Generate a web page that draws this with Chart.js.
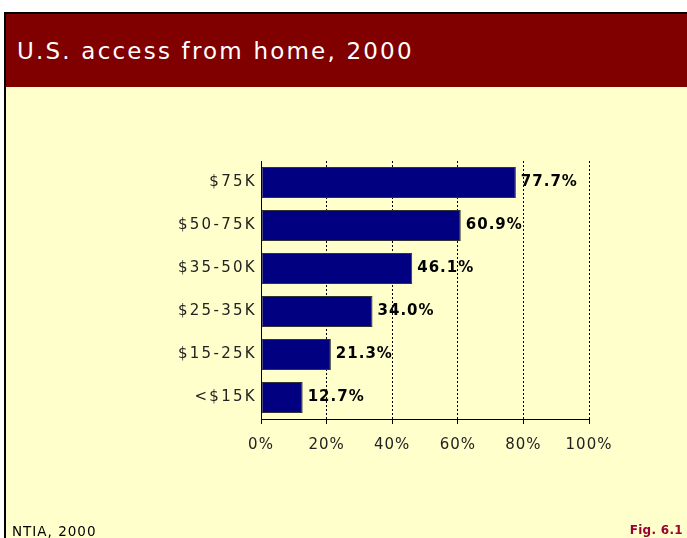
<!DOCTYPE html>
<html>
<head>
<meta charset="utf-8">
<script src="https://cdn.jsdelivr.net/npm/chart.js@4/dist/chart.umd.min.js"></script>
<style>
  html, body { margin: 0; padding: 0; background: #fff; }
  #page { position: relative; width: 687px; height: 538px; overflow: hidden; }
  #frame { position: absolute; left: 4px; top: 12px; width: 700px; height: 540px;
           border-left: 2px solid #000; border-top: 2px solid #000; background: #ffffcc; }
  #header { position: absolute; left: 6px; top: 14px; width: 690px; height: 73px; background: #800000; }
  #title { position: absolute; left: 17px; top: 38px; color: #fff; font: 23px "DejaVu Sans", sans-serif;
           letter-spacing: 2.2px; white-space: nowrap; }
  #source { position: absolute; left: 12px; top: 523px; font: 13.5px "DejaVu Sans", sans-serif;
            letter-spacing: 1px; color: #000; }
  #fig { position: absolute; right: 4px; top: 523px; font: bold 12px "DejaVu Sans", sans-serif;
         letter-spacing: 0.3px; color: #990033; }
  #chart { position: absolute; left: 0; top: 0; }
</style>
</head>
<body>
<div id="page">
  <div id="frame"></div>
  <div id="header"></div>
  <div id="title">U.S. access from home, 2000</div>
  <canvas id="chart" width="687" height="538"></canvas>
  <div id="source">NTIA, 2000</div>
  <div id="fig">Fig. 6.1</div>
</div>
<script>
const incomeGroups = ['$75K', '$50-75K', '$35-50K', '$25-35K', '$15-25K', '<$15K'];
const accessShare = [77.7, 60.9, 46.1, 34.0, 21.3, 12.7];
const axisTicks = [0, 20, 40, 60, 80, 100];

// value labels next to each bar; the category ticks (z: 1) draw afterwards with wider spacing
const barLabels = {
    id: 'barLabels',
    beforeDraw(chart) {
        chart.ctx.letterSpacing = '1px';
    },
    afterDatasetsDraw(chart) {
        const ctx = chart.ctx;
        const meta = chart.getDatasetMeta(0);
        ctx.save();
        ctx.letterSpacing = '1px';
        ctx.font = 'bold 15px "DejaVu Sans", sans-serif';
        ctx.fillStyle = '#000';
        ctx.textAlign = 'left';
        ctx.textBaseline = 'middle';
        meta.data.forEach((bar, i) => {
            ctx.fillText(accessShare[i].toFixed(1) + '%', bar.x + 5, bar.y);
        });
        ctx.restore();
        ctx.letterSpacing = '2.3px';
    },
    afterDraw(chart) {
        chart.ctx.letterSpacing = '0px';
    }
};

new Chart(document.getElementById('chart'), {
    type: 'bar',
    data: {
        labels: incomeGroups,
        datasets: [{
            data: accessShare,
            backgroundColor: '#000080',
            borderColor: '#333333',
            borderWidth: 1,
            borderSkipped: false,
            categoryPercentage: 1,
            barPercentage: 0.72
        }]
    },
    options: {
        indexAxis: 'y',
        responsive: false,
        animation: false,
        events: [],
        layout: { padding: { left: 0, right: 98, top: 161, bottom: 79 } },
        plugins: { legend: { display: false }, tooltip: { enabled: false } },
        scales: {
            x: {
                min: 0,
                max: 100,
                afterBuildTicks(scale) {
                    scale.ticks = axisTicks.map(v => ({ value: v }));
                },
                afterFit(scale) { scale.height = 40; },
                border: { display: true, color: '#000', width: 1, dash: [2, 2] },
                grid: {
                    color: ctx => ctx.index === 0 ? 'rgba(0,0,0,0)' : '#000',
                    lineWidth: 1,
                    drawTicks: true,
                    tickLength: 5,
                    tickColor: '#000',
                    tickBorderDash: []
                },
                ticks: {
                    padding: 12,
                    color: '#222',
                    font: { family: 'DejaVu Sans', size: 15 },
                    callback: v => v + '%'
                }
            },
            y: {
                afterFit(scale) { scale.width = 261; },
                border: { display: true, color: '#000', width: 1, z: 1 },
                grid: { display: false, drawTicks: false },
                ticks: {
                    z: 1,
                    padding: 4,
                    color: '#222',
                    font: { family: 'DejaVu Sans', size: 15 }
                }
            }
        }
    },
    plugins: [barLabels]
});
</script>
</body>
</html>
